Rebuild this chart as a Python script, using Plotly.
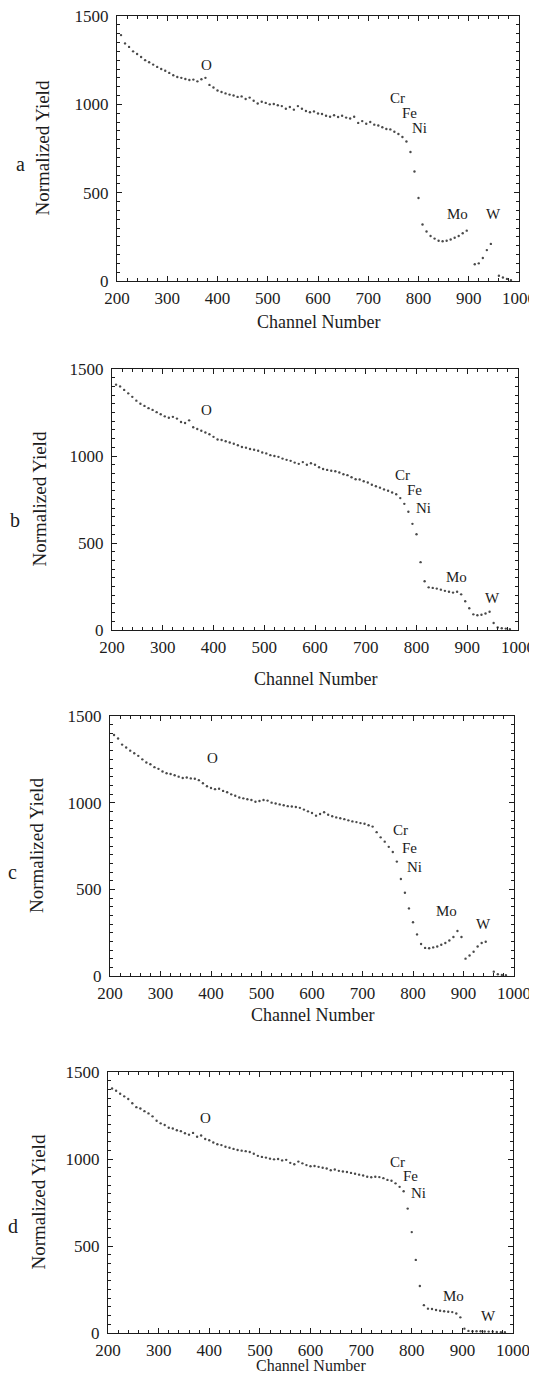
import plotly.graph_objects as go

# ---------------- data ----------------
channels = [208, 216, 224, 232, 240, 248, 256, 264, 272, 280,
            288, 296, 304, 312, 320, 328, 336, 344, 352, 360,
            368, 376, 384, 392, 400, 408, 416, 424, 432, 440,
            448, 456, 464, 472, 480, 488, 496, 504, 512, 520,
            528, 536, 544, 552, 560, 568, 576, 584, 592, 600,
            608, 616, 624, 632, 640, 648, 656, 664, 672, 680,
            688, 696, 704, 712, 720, 728, 736, 744, 752, 760,
            768, 776, 784, 792, 800, 808, 816, 824, 832, 840,
            848, 856, 864, 872, 880, 888, 896, 904, 912, 920,
            928, 936, 944, 952, 960, 968, 976, 984, 992]

yield_a = [1392, 1345, 1325, 1300, 1285, 1268, 1250, 1238, 1225, 1212,
           1200, 1190, 1178, 1165, 1155, 1150, 1143, 1138, 1140, 1130,
           1142, 1150, 1110, 1095, 1078, 1070, 1062, 1055, 1050, 1042,
           1045, 1030, 1038, 1020, 1005, 1015, 1008, 1000, 1002, 995,
           990, 975, 985, 970, 990, 975, 962, 955, 960, 948,
           945, 935, 930, 938, 928, 935, 925, 920, 930, 895,
           905, 890, 900, 885, 880, 870, 860, 858, 845, 832,
           815, 790, 730, 620, 470, 320, 280, 255, 240, 228,
           225, 228, 235, 245, 255, 270, 285, None, 95, 100,
           130, 175, 210, None, 30, 20, 12, 5, None]

yield_b = [1410, 1400, 1380, 1360, 1340, 1318, 1300, 1288, 1275, 1265,
           1252, 1240, 1228, 1220, 1225, 1215, 1195, 1190, 1205, 1165,
           1155, 1145, 1135, 1125, 1110, 1095, 1092, 1085, 1078, 1070,
           1062, 1052, 1048, 1040, 1036, 1030, 1020, 1015, 1005, 1000,
           995, 985, 978, 972, 962, 955, 965, 950, 958, 950,
           935, 925, 920, 915, 912, 905, 895, 890, 878, 866,
           865, 855, 848, 835, 826, 818, 808, 800, 790, 780,
           758, 725, 680, 610, 550, 390, 280, 245, 242, 238,
           232, 225, 220, 215, 220, 205, 165, 125, 90, 85,
           88, 95, 105, 40, 15, 10, 8, 5, None]

yield_c = [1390, 1370, 1335, 1318, 1300, 1285, 1270, 1250, 1232, 1222,
           1205, 1195, 1180, 1170, 1165, 1158, 1150, 1142, 1145, 1140,
           1138, 1130, 1112, 1095, 1085, 1078, 1080, 1068, 1060, 1048,
           1040, 1030, 1025, 1020, 1015, 1005, 1010, 1015, 1012, 1000,
           995, 990, 985, 980, 978, 975, 970, 960, 950, 940,
           925, 935, 945, 930, 922, 915, 910, 905, 898, 892,
           888, 882, 878, 870, 862, 830, 800, 775, 745, 715,
           660, 560, 480, 390, 310, 240, 185, 162, 160, 165,
           170, 180, 190, 205, 225, 260, 225, 100, 118, 140,
           170, 190, 198, None, 25, 10, 6, 4, None]

yield_d = [1405, 1392, 1375, 1360, 1345, 1320, 1298, 1290, 1275, 1262,
           1245, 1220, 1205, 1195, 1180, 1175, 1165, 1160, 1148, 1140,
           1150, 1128, 1135, 1115, 1108, 1095, 1085, 1080, 1070, 1065,
           1058, 1052, 1048, 1045, 1040, 1030, 1018, 1012, 1008, 1002,
           998, 1000, 992, 995, 978, 970, 985, 975, 965, 958,
           960, 955, 950, 945, 935, 940, 932, 928, 925, 920,
           915, 910, 905, 898, 895, 898, 896, 890, 880, 875,
           860, 840, 815, 715, 580, 420, 270, 160, 140, 138,
           132, 128, 125, 122, 120, 112, 90, 25, 12, 10,
           10, 10, 9, 8, 8, 6, 5, 4, None]

panel_letters = ["a", "b", "c", "d"]
element_names = ["O", "Cr", "Fe", "Ni", "Mo", "W"]
# label anchor positions (channel, yield) for each panel
label_ch = [[379, 758, 782, 802, 877, 949],
            [386, 772, 796, 814, 879, 949],
            [402, 776, 793, 802, 866, 940],
            [393, 771, 797, 813, 883, 951]]
label_y = [[1222, 1037, 949, 866, 377, 377],
           [1262, 892, 802, 699, 307, 184],
           [1255, 843, 739, 629, 374, 301],
           [1236, 980, 900, 804, 210, 96]]

x_title = "Channel Number"
y_title = "Normalized Yield"

# ---------------- layout geometry (page pixels) ----------------
PAGE_W, PAGE_H = 537, 1373
OFF = 8                      # default body margin of the html page
W, H = PAGE_W - OFF, PAGE_H - OFF


def fx(px):
    return (px - OFF) / W


def fy(py):
    return 1 - (py - OFF) / H


# (left, right, top, bottom) of each plot area
boxes = [(117, 519, 16, 281),
         (112, 518, 369, 630),
         (110, 514, 716, 976),
         (108, 513, 1072, 1333)]
ytitle_x = [42, 39, 36, 38]
xtitle_y = [322, 679, 1015, 1365]
xtitle_size = [18, 18, 18, 16]
letter_pos = [(20, 164), (15, 520), (12, 872), (13, 1226)]

FONT = "Liberation Serif, Times New Roman, serif"
INK = "#1c1c1c"

fig = go.Figure()
series = [yield_a, yield_b, yield_c, yield_d]

annotations = []
for i, ys in enumerate(series):
    sfx = "" if i == 0 else str(i + 1)
    fig.add_trace(go.Scatter(
        x=channels, y=ys, mode="markers",
        marker=dict(size=2.4, color="#4a4a4a"),
        xaxis="x" + sfx, yaxis="y" + sfx, showlegend=False,
        hoverinfo="x+y"))
    l, r, t, b = boxes[i]
    axcommon = dict(showgrid=False, zeroline=False, showline=True,
                    linecolor=INK, linewidth=1.4, mirror="ticks",
                    ticks="inside", ticklen=5, tickwidth=1.2, tickcolor=INK,
                    automargin=False, ticklabeloverflow="allow",
                    tickfont=dict(family=FONT, size=17, color=INK))
    fig.layout["xaxis" + sfx] = dict(
        axcommon, domain=[fx(l), fx(r)], range=[200, 1000],
        dtick=100, tick0=200, anchor="y" + sfx, ticklabelstandoff=1,
        minor=dict(dtick=20, ticks="inside", ticklen=3, tickcolor=INK, tickwidth=1))
    fig.layout["yaxis" + sfx] = dict(
        axcommon, domain=[fy(b), fy(t)], range=[0, 1500],
        dtick=500, tick0=0, anchor="x" + sfx, ticklabelstandoff=4,
        minor=dict(dtick=50, ticks="inside", ticklen=3, tickcolor=INK, tickwidth=1))

    # axis titles
    annotations.append(dict(text=y_title, xref="paper", yref="paper",
                            x=fx(ytitle_x[i]), y=fy((t + b) / 2),
                            textangle=-90, showarrow=False,
                            xanchor="center", yanchor="middle",
                            font=dict(family=FONT, size=19, color=INK)))
    annotations.append(dict(text=x_title, xref="paper", yref="paper",
                            x=fx((l + r) / 2), y=fy(xtitle_y[i]),
                            showarrow=False, xanchor="center", yanchor="middle",
                            font=dict(family=FONT, size=xtitle_size[i], color=INK)))
    lx, ly = letter_pos[i]
    annotations.append(dict(text=panel_letters[i], xref="paper", yref="paper",
                            x=fx(lx), y=fy(ly), showarrow=False,
                            xanchor="center", yanchor="middle",
                            font=dict(family=FONT, size=20, color=INK)))
    for name, cx, cy in zip(element_names, label_ch[i], label_y[i]):
        annotations.append(dict(text=name, xref="x" + sfx, yref="y" + sfx,
                                x=cx, y=cy, showarrow=False,
                                xanchor="center", yanchor="middle",
                                font=dict(family=FONT, size=15, color=INK)))

fig.update_layout(width=W, height=H,
                  margin=dict(l=0, r=0, t=0, b=0, autoexpand=False),
                  paper_bgcolor="white", plot_bgcolor="white",
                  annotations=annotations, showlegend=False)

fig.write_html("out.html")
